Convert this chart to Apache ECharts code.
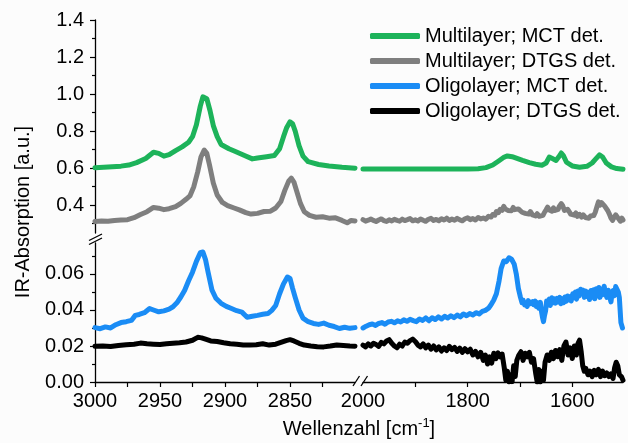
<!DOCTYPE html>
<html><head><meta charset="utf-8">
<script src="https://cdn.jsdelivr.net/npm/echarts@6/dist/echarts.min.js"></script>
<style>html,body{margin:0;padding:0;background:#fcfcfc}#c{width:628px;height:443px}</style>
</head><body><div id="c"></div>
<script>
// ---- legend / series names ----
const seriesNames = ['Multilayer; MCT det.', 'Multilayer; DTGS det.', 'Oligolayer; MCT det.', 'Oligolayer; DTGS det.'];
const seriesColors = ['#1db35a', '#7f7f7f', '#1a8cf5', '#000000'];

// ---- axis ticks / labels ----
const yTopLabels = [0.4, 0.6, 0.8, 1.0, 1.2, 1.4];
const yTopMinor = [0.3, 0.5, 0.7, 0.9, 1.1, 1.3];
const yBotLabels = [0, 0.02, 0.04, 0.06];
const yBotMinor = [0.01, 0.03, 0.05, 0.07];
const xLeftLabels = [3000, 2950, 2900, 2850];
const xLeftTicks = [3000, 2975, 2950, 2925, 2900, 2875, 2850, 2825];
const xRightLabels = [2000, 1800, 1600];
const xRightTicks = [1900, 1800, 1700, 1600];

// ---- Multilayer; MCT det. ----
const multiMctCH = [[3000,0.602],[2990,0.606],[2980,0.611],[2974,0.617],[2968,0.630],[2961,0.652],[2955,0.686],[2951,0.680],[2947,0.665],[2943,0.673],[2938,0.695],[2933,0.715],[2928,0.740],[2925,0.770],[2922,0.835],[2919,0.935],[2917,0.985],[2915.5,0.995],[2914,0.975],[2911.5,0.910],[2909,0.830],[2906,0.770],[2903,0.728],[2897,0.705],[2892,0.690],[2885,0.668],[2879,0.650],[2875,0.655],[2868,0.662],[2862,0.668],[2858,0.705],[2855,0.770],[2852.5,0.820],[2850,0.850],[2848,0.840],[2846,0.800],[2843,0.720],[2840,0.665],[2836,0.635],[2828,0.620],[2820,0.612],[2810,0.605],[2800,0.600]];
const multiMctFP = [[2000,0.595],[1950,0.595],[1900,0.595],[1850,0.595],[1800,0.596],[1780,0.597],[1765,0.603],[1752,0.617],[1740,0.640],[1730,0.660],[1724,0.666],[1715,0.662],[1707,0.654],[1695,0.642],[1682,0.630],[1670,0.621],[1658,0.616],[1650,0.628],[1644,0.660],[1638,0.652],[1631,0.642],[1626,0.660],[1621,0.682],[1617,0.668],[1611,0.632],[1600,0.612],[1586,0.605],[1572,0.610],[1562,0.628],[1555,0.650],[1548,0.672],[1542,0.660],[1535,0.628],[1525,0.607],[1515,0.598],[1503,0.594]];

// ---- Multilayer; DTGS det. ----
const multiDtgsCH = [[3000,0.312],[2995,0.315],[2990,0.313],[2985,0.318],[2980,0.320],[2975,0.322],[2970,0.333],[2965,0.350],[2960,0.365],[2955,0.388],[2951,0.384],[2947,0.376],[2943,0.381],[2938,0.392],[2934,0.410],[2930,0.432],[2927,0.450],[2924,0.500],[2921,0.580],[2918.5,0.660],[2916,0.698],[2914,0.680],[2912,0.620],[2909,0.520],[2906,0.455],[2902,0.415],[2898,0.398],[2893,0.385],[2889,0.375],[2884,0.360],[2880,0.352],[2875,0.356],[2870,0.366],[2865,0.368],[2861,0.385],[2857,0.420],[2854,0.480],[2851,0.530],[2849,0.546],[2847,0.525],[2845,0.480],[2842,0.410],[2839,0.365],[2835,0.345],[2830,0.335],[2825,0.338],[2820,0.330],[2815,0.332],[2810,0.318],[2806,0.305],[2803,0.318],[2800,0.315]];
const multiDtgsFP = [[2000,0.322],[1995,0.314],[1990,0.319],[1985,0.325],[1980,0.318],[1975,0.312],[1970,0.320],[1965,0.326],[1960,0.317],[1955,0.312],[1950,0.321],[1945,0.315],[1940,0.324],[1935,0.318],[1930,0.314],[1925,0.325],[1920,0.317],[1915,0.322],[1910,0.328],[1905,0.316],[1900,0.321],[1895,0.315],[1890,0.326],[1885,0.319],[1880,0.313],[1875,0.324],[1870,0.329],[1865,0.318],[1860,0.323],[1855,0.316],[1850,0.327],[1845,0.320],[1840,0.330],[1835,0.318],[1830,0.325],[1825,0.319],[1820,0.329],[1815,0.321],[1810,0.316],[1805,0.327],[1800,0.332],[1795,0.322],[1790,0.328],[1785,0.320],[1780,0.334],[1775,0.326],[1770,0.331],[1765,0.325],[1760,0.340],[1755,0.336],[1752,0.350],[1748,0.346],[1745,0.366],[1741,0.360],[1738,0.378],[1734,0.372],[1731,0.394],[1728,0.380],[1726,0.388],[1723,0.372],[1720,0.381],[1716,0.370],[1713,0.388],[1710,0.376],[1707,0.368],[1703,0.380],[1700,0.372],[1696,0.362],[1693,0.370],[1690,0.356],[1687,0.364],[1683,0.352],[1680,0.366],[1676,0.348],[1673,0.356],[1670,0.342],[1667,0.354],[1663,0.340],[1660,0.350],[1656,0.345],[1653,0.362],[1650,0.375],[1647,0.390],[1644,0.374],[1642,0.384],[1639,0.368],[1636,0.386],[1633,0.372],[1630,0.362],[1627,0.378],[1625,0.392],[1621,0.409],[1618,0.396],[1615,0.372],[1612,0.362],[1609,0.378],[1606,0.366],[1603,0.352],[1600,0.362],[1596,0.346],[1593,0.358],[1590,0.340],[1586,0.350],[1582,0.336],[1579,0.348],[1575,0.334],[1572,0.344],[1568,0.330],[1565,0.342],[1562,0.334],[1559,0.344],[1556,0.362],[1553,0.390],[1550,0.418],[1547,0.400],[1544,0.414],[1541,0.420],[1538,0.395],[1535,0.388],[1532,0.370],[1529,0.352],[1526,0.330],[1523,0.318],[1520,0.336],[1517,0.348],[1514,0.338],[1511,0.325],[1508,0.314],[1505,0.330],[1503,0.320]];

// ---- Oligolayer; MCT det. ----
const oligoMctCH = [[3000,0.0302],[2996,0.0296],[2992,0.0306],[2988,0.0300],[2984,0.0318],[2980,0.0330],[2976,0.0335],[2972,0.0342],[2969,0.0370],[2966,0.0375],[2962,0.0385],[2958,0.0408],[2955,0.0400],[2951,0.0390],[2947,0.0395],[2943,0.0405],[2940,0.0418],[2937,0.0440],[2934,0.0472],[2931,0.0510],[2928,0.0562],[2925,0.0610],[2922,0.0670],[2919,0.0718],[2917,0.0722],[2915,0.0680],[2913,0.0610],[2910,0.0510],[2907,0.0465],[2903,0.0437],[2899,0.0420],[2895,0.0408],[2891,0.0396],[2887,0.0388],[2883,0.0360],[2879,0.0365],[2875,0.0370],[2871,0.0376],[2867,0.0380],[2864,0.0398],[2861,0.0425],[2858,0.0490],[2855,0.0545],[2852,0.0583],[2850,0.0575],[2848,0.0520],[2846,0.0470],[2843,0.0400],[2840,0.0355],[2836,0.0335],[2832,0.0325],[2828,0.0320],[2824,0.0327],[2820,0.0315],[2816,0.0308],[2812,0.0297],[2808,0.0304],[2804,0.0298],[2800,0.0302]];
const oligoMctFP = [[2000,0.0300],[1994,0.0310],[1988,0.0318],[1982,0.0322],[1976,0.0314],[1970,0.0325],[1964,0.0330],[1958,0.0321],[1952,0.0333],[1946,0.0337],[1940,0.0329],[1934,0.0340],[1928,0.0333],[1922,0.0345],[1916,0.0337],[1910,0.0348],[1904,0.0341],[1898,0.0335],[1892,0.0350],[1886,0.0342],[1880,0.0356],[1874,0.0340],[1868,0.0357],[1862,0.0347],[1856,0.0362],[1850,0.0350],[1844,0.0365],[1838,0.0355],[1832,0.0368],[1826,0.0357],[1820,0.0372],[1814,0.0362],[1808,0.0378],[1802,0.0368],[1796,0.0380],[1790,0.0372],[1784,0.0385],[1778,0.0378],[1772,0.0392],[1766,0.0398],[1760,0.0410],[1755,0.0430],[1750,0.0455],[1745,0.0490],[1740,0.0560],[1736,0.0630],[1731,0.0672],[1726,0.0668],[1721,0.0690],[1716,0.0682],[1711,0.0655],[1707,0.0600],[1703,0.0520],[1699,0.0470],[1696,0.0440],[1694,0.0455],[1691,0.0428],[1689,0.0440],[1686,0.0420],[1684,0.0452],[1681,0.0435],[1679,0.0425],[1676,0.0446],[1674,0.0430],[1671,0.0450],[1669,0.0420],[1666,0.0440],[1664,0.0410],[1661,0.0442],[1659,0.0395],[1657,0.0360],[1655,0.0335],[1653,0.0370],[1651,0.0395],[1649,0.0450],[1647,0.0430],[1644,0.0460],[1642,0.0425],[1639,0.0468],[1637,0.0440],[1634,0.0462],[1632,0.0438],[1629,0.0465],[1627,0.0445],[1624,0.0470],[1622,0.0435],[1619,0.0462],[1617,0.0440],[1614,0.0472],[1612,0.0448],[1609,0.0478],[1607,0.0455],[1604,0.0475],[1602,0.0450],[1599,0.0490],[1597,0.0470],[1594,0.0500],[1592,0.0460],[1589,0.0505],[1587,0.0478],[1584,0.0515],[1582,0.0490],[1579,0.0510],[1577,0.0470],[1574,0.0505],[1572,0.0475],[1569,0.0498],[1567,0.0458],[1564,0.0508],[1562,0.0470],[1559,0.0512],[1557,0.0462],[1554,0.0518],[1552,0.0478],[1549,0.0525],[1547,0.0470],[1544,0.0515],[1542,0.0485],[1539,0.0532],[1537,0.0500],[1534,0.0470],[1531,0.0510],[1529,0.0480],[1526,0.0445],[1524,0.0490],[1522,0.0508],[1519,0.0480],[1517,0.0530],[1514,0.0540],[1512,0.0500],[1510,0.0470],[1507,0.0330],[1504,0.0300]];

// ---- Oligolayer; DTGS det. ----
const oligoDtgsCH = [[3000,0.0198],[2994,0.0200],[2988,0.0197],[2982,0.0203],[2976,0.0207],[2970,0.0210],[2965,0.0216],[2960,0.0212],[2955,0.0210],[2950,0.0208],[2945,0.0212],[2940,0.0215],[2935,0.0218],[2930,0.0222],[2925,0.0232],[2921,0.0248],[2918,0.0245],[2915,0.0238],[2911,0.0228],[2906,0.0225],[2901,0.0218],[2896,0.0212],[2891,0.0210],[2886,0.0206],[2881,0.0205],[2876,0.0207],[2871,0.0212],[2866,0.0205],[2861,0.0210],[2857,0.0220],[2853,0.0230],[2850,0.0235],[2847,0.0228],[2843,0.0215],[2839,0.0205],[2834,0.0200],[2829,0.0196],[2824,0.0195],[2819,0.0200],[2814,0.0206],[2809,0.0203],[2804,0.0200],[2800,0.0199]];
const oligoDtgsFP = [[2000,0.0205],[1995,0.0195],[1990,0.0212],[1985,0.0200],[1980,0.0215],[1975,0.0208],[1970,0.0198],[1965,0.0220],[1960,0.0212],[1955,0.0228],[1950,0.0235],[1945,0.0215],[1940,0.0200],[1935,0.0190],[1930,0.0210],[1925,0.0200],[1920,0.0222],[1915,0.0215],[1910,0.0230],[1905,0.0238],[1900,0.0225],[1895,0.0205],[1890,0.0195],[1885,0.0212],[1880,0.0190],[1875,0.0205],[1870,0.0182],[1865,0.0200],[1860,0.0178],[1855,0.0195],[1850,0.0172],[1845,0.0190],[1840,0.0175],[1835,0.0198],[1830,0.0180],[1825,0.0192],[1820,0.0170],[1815,0.0188],[1810,0.0165],[1805,0.0185],[1800,0.0168],[1795,0.0182],[1790,0.0150],[1785,0.0170],[1780,0.0140],[1775,0.0165],[1770,0.0120],[1766,0.0150],[1762,0.0100],[1758,0.0140],[1754,0.0105],[1750,0.0160],[1746,0.0130],[1742,0.0162],[1738,0.0140],[1734,0.0155],[1730,0.0080],[1727,0.0010],[1724,0.0060],[1721,0.0000],[1718,0.0040],[1715,0.0002],[1712,0.0090],[1709,0.0030],[1706,0.0120],[1702,0.0150],[1698,0.0168],[1694,0.0120],[1690,0.0160],[1686,0.0140],[1682,0.0165],[1678,0.0110],[1674,0.0130],[1670,0.0050],[1667,0.0000],[1664,0.0070],[1661,0.0000],[1658,0.0060],[1655,0.0010],[1652,0.0110],[1648,0.0150],[1644,0.0120],[1640,0.0165],[1636,0.0130],[1632,0.0175],[1628,0.0140],[1624,0.0180],[1620,0.0120],[1616,0.0200],[1612,0.0222],[1608,0.0150],[1604,0.0190],[1600,0.0130],[1596,0.0200],[1592,0.0150],[1589,0.0215],[1586,0.0232],[1583,0.0170],[1580,0.0090],[1577,0.0060],[1574,0.0075],[1570,0.0040],[1566,0.0060],[1562,0.0030],[1558,0.0065],[1554,0.0040],[1550,0.0070],[1546,0.0030],[1542,0.0060],[1538,0.0035],[1534,0.0050],[1530,0.0030],[1526,0.0045],[1522,0.0020],[1519,0.0080],[1516,0.0110],[1513,0.0090],[1510,0.0040],[1506,0.0030],[1503,0.0010]];

const FONT = '"Liberation Sans", Arial, sans-serif';
const TXT = '#000';

const chart = echarts.init(document.getElementById('c'), null, {renderer: 'canvas'});

const gridTL = {left: 95, top: 20, width: 260, height: 213};
const gridTR = {left: 363, top: 20, width: 260, height: 213};
const gridBL = {left: 95, top: 243, width: 260, height: 139};
const gridBR = {left: 363, top: 243, width: 260, height: 139};

const axisLineStyle = {show: true, lineStyle: {color: '#000', width: 1.3}};
function hiddenX(gi, min, max) {
  return {type: 'value', gridIndex: gi, min, max, inverse: true, show: false};
}
function hiddenY(gi, min, max) {
  return {type: 'value', gridIndex: gi, min, max, show: false};
}

const option = {
  animation: false,
  backgroundColor: '#fcfcfc',
  textStyle: {fontFamily: FONT},
  grid: [
    Object.assign({outerBoundsMode: 'none'}, gridTL),
    Object.assign({outerBoundsMode: 'none'}, gridTR),
    Object.assign({outerBoundsMode: 'none'}, gridBL),
    Object.assign({outerBoundsMode: 'none'}, gridBR),
    Object.assign({outerBoundsMode: 'none'}, gridTL),
    Object.assign({outerBoundsMode: 'none'}, gridBL)
  ],
  xAxis: [
    hiddenX(0, 2800, 3000),
    hiddenX(1, 1503, 2000),
    {
      type: 'value', gridIndex: 2, min: 2800, max: 3000, inverse: true,
      axisLine: axisLineStyle,
      axisTick: {show: true, inside: false, length: 5, customValues: xLeftTicks, lineStyle: {color: '#000', width: 1.2}},
      axisLabel: {show: true, customValues: xLeftLabels, formatter: v => String(v), fontSize: 20, color: TXT, fontFamily: FONT, margin: 9},
      splitLine: {show: false}
    },
    {
      type: 'value', gridIndex: 3, min: 1503, max: 2000, inverse: true,
      axisLine: axisLineStyle,
      axisTick: {show: true, inside: false, length: 5, customValues: xRightTicks, lineStyle: {color: '#000', width: 1.2}},
      axisLabel: {show: true, customValues: xRightLabels, formatter: v => String(v), fontSize: 20, color: TXT, fontFamily: FONT, margin: 9},
      splitLine: {show: false}
    },
    hiddenX(4, 2800, 3000),
    hiddenX(5, 2800, 3000)
  ],
  yAxis: [
    {
      type: 'value', gridIndex: 0, min: 0.25, max: 1.4,
      axisLine: axisLineStyle,
      axisTick: {show: true, inside: false, length: 5, customValues: yTopLabels, lineStyle: {color: '#000', width: 1.2}},
      axisLabel: {show: true, customValues: yTopLabels, formatter: v => Number(v).toFixed(1), fontSize: 20, color: TXT, fontFamily: FONT, margin: 11},
      splitLine: {show: false}
    },
    hiddenY(1, 0.25, 1.4),
    {
      type: 'value', gridIndex: 2, min: 0, max: 0.0772,
      axisLine: axisLineStyle,
      axisTick: {show: true, inside: false, length: 5, customValues: yBotLabels, lineStyle: {color: '#000', width: 1.2}},
      axisLabel: {show: true, customValues: yBotLabels, formatter: v => Number(v).toFixed(2), fontSize: 20, color: TXT, fontFamily: FONT, margin: 11},
      splitLine: {show: false}
    },
    hiddenY(3, 0, 0.0772),
    {
      type: 'value', gridIndex: 4, min: 0.25, max: 1.4,
      axisLine: {show: false},
      axisTick: {show: true, inside: false, length: 3, customValues: yTopMinor, lineStyle: {color: '#000', width: 1.2}},
      axisLabel: {show: false},
      splitLine: {show: false}
    },
    {
      type: 'value', gridIndex: 5, min: 0, max: 0.0772,
      axisLine: {show: false},
      axisTick: {show: true, inside: false, length: 3, customValues: yBotMinor, lineStyle: {color: '#000', width: 1.2}},
      axisLabel: {show: false},
      splitLine: {show: false}
    }
  ],
  legend: {
    orient: 'vertical', left: 365, top: 21, itemWidth: 50, itemHeight: 6, itemGap: 5,
    icon: 'roundRect',
    textStyle: {fontSize: 20, color: TXT, fontFamily: FONT},
    data: seriesNames
  },
  series: [],
  graphic: [
    // y-axis break marks
    {type: 'line', shape: {x1: 89, y1: 240.5, x2: 102, y2: 234}, style: {stroke: '#000', lineWidth: 1.3}, silent: true},
    {type: 'line', shape: {x1: 89, y1: 244.5, x2: 102, y2: 238}, style: {stroke: '#000', lineWidth: 1.3}, silent: true},
    // x-axis break marks
    {type: 'line', shape: {x1: 353, y1: 386, x2: 359.5, y2: 376}, style: {stroke: '#000', lineWidth: 1.3}, silent: true},
    {type: 'line', shape: {x1: 361, y1: 386, x2: 367.5, y2: 376}, style: {stroke: '#000', lineWidth: 1.3}, silent: true},
    // axis titles
    {
      type: 'text', x: 359, y: 429, silent: true,
      style: {
        text: '{a|Wellenzahl [cm}{s|-1}{a|]}',
        align: 'center', verticalAlign: 'middle',
        rich: {
          a: {fontSize: 20, fontFamily: FONT, fill: TXT, lineHeight: 24},
          s: {fontSize: 13, fontFamily: FONT, fill: TXT, lineHeight: 14, verticalAlign: 'top'}
        }
      }
    },
    {
      type: 'text', x: 23, y: 212, rotation: Math.PI / 2, silent: true,
      style: {text: 'IR-Absorption [a.u.]', font: '20px ' + FONT, fill: TXT, align: 'center', verticalAlign: 'middle'}
    }
  ]
};

const lineWidths = [5, 5, 5, 5];
const segs = [
  [0, multiMctCH, multiMctFP, 0, 1, 0, 1],
  [1, multiDtgsCH, multiDtgsFP, 0, 1, 0, 1],
  [2, oligoMctCH, oligoMctFP, 2, 3, 2, 3],
  [3, oligoDtgsCH, oligoDtgsFP, 2, 3, 2, 3]
];
segs.forEach(([i, left, right, xl, xr, yl, yr]) => {
  [[left, xl, yl], [right, xr, yr]].forEach(([data, xi, yi]) => {
    option.series.push({
      type: 'line', name: seriesNames[i], data, xAxisIndex: xi, yAxisIndex: yi,
      showSymbol: false, symbol: 'none', color: seriesColors[i],
      lineStyle: {width: lineWidths[i], color: seriesColors[i], cap: 'round', join: 'round'},
      z: 2 + i
    });
  });
});

chart.setOption(option);
</script>
</body></html>
